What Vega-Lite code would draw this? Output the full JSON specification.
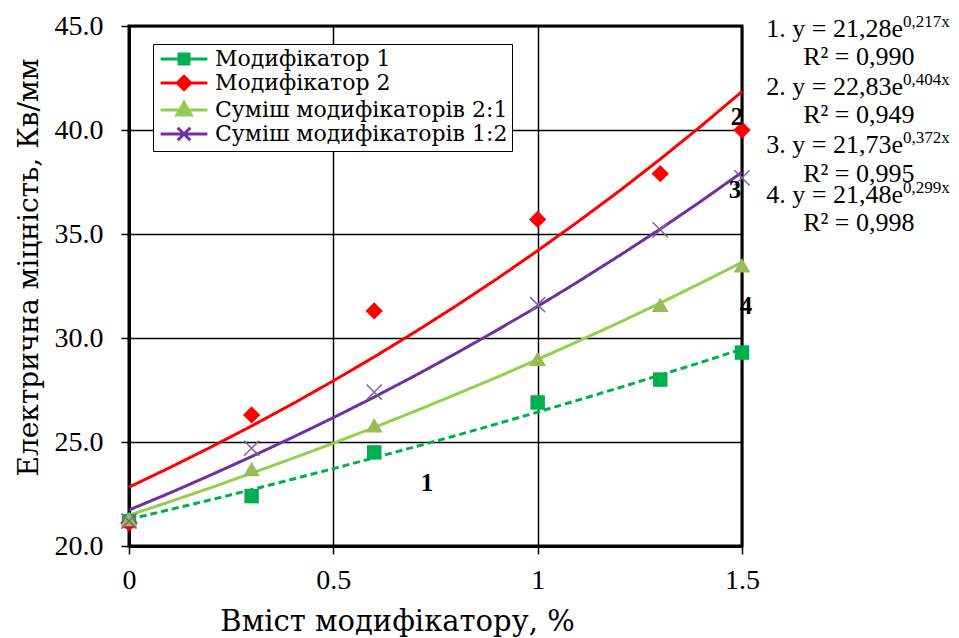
{
  "$schema": "https://vega.github.io/schema/vega-lite/v6.json",
  "width": 613,
  "height": 520,
  "autosize": {"type": "none"},
  "padding": {"left": 129, "top": 26, "right": 217, "bottom": 92},
  "background": "white",
  "config": {
    "font": "Liberation Serif",
    "view": {"stroke": "black", "strokeWidth": 3},
    "text": {"font": "Liberation Serif", "color": "black"}
  },
  "datasets": {
    "points": [
      {"series": "Модифікатор 1", "x": 0, "y": 21.2},
      {"series": "Модифікатор 1", "x": 0.3, "y": 22.4},
      {"series": "Модифікатор 1", "x": 0.6, "y": 24.5},
      {"series": "Модифікатор 1", "x": 1.0, "y": 26.9},
      {"series": "Модифікатор 1", "x": 1.3, "y": 28.0},
      {"series": "Модифікатор 1", "x": 1.5, "y": 29.3},
      {"series": "Модифікатор 2", "x": 0, "y": 21.1},
      {"series": "Модифікатор 2", "x": 0.3, "y": 26.3},
      {"series": "Модифікатор 2", "x": 0.6, "y": 31.3},
      {"series": "Модифікатор 2", "x": 1.0, "y": 35.7},
      {"series": "Модифікатор 2", "x": 1.3, "y": 37.9},
      {"series": "Модифікатор 2", "x": 1.5, "y": 40.0},
      {"series": "Суміш модифікаторів 2:1", "x": 0, "y": 21.3},
      {"series": "Суміш модифікаторів 2:1", "x": 0.3, "y": 23.7},
      {"series": "Суміш модифікаторів 2:1", "x": 0.6, "y": 25.8},
      {"series": "Суміш модифікаторів 2:1", "x": 1.0, "y": 29.0},
      {"series": "Суміш модифікаторів 2:1", "x": 1.3, "y": 31.6},
      {"series": "Суміш модифікаторів 2:1", "x": 1.5, "y": 33.5},
      {"series": "Суміш модифікаторів 1:2", "x": 0, "y": 21.2},
      {"series": "Суміш модифікаторів 1:2", "x": 0.3, "y": 24.7},
      {"series": "Суміш модифікаторів 1:2", "x": 0.6, "y": 27.4},
      {"series": "Суміш модифікаторів 1:2", "x": 1.0, "y": 31.6},
      {"series": "Суміш модифікаторів 1:2", "x": 1.3, "y": 35.2},
      {"series": "Суміш модифікаторів 1:2", "x": 1.5, "y": 37.7}
    ],
    "trend": [
      {"series": "Модифікатор 1", "x": 0, "y": 21.28},
      {"series": "Модифікатор 1", "x": 0.1, "y": 21.75},
      {"series": "Модифікатор 1", "x": 0.2, "y": 22.22},
      {"series": "Модифікатор 1", "x": 0.3, "y": 22.71},
      {"series": "Модифікатор 1", "x": 0.4, "y": 23.21},
      {"series": "Модифікатор 1", "x": 0.5, "y": 23.72},
      {"series": "Модифікатор 1", "x": 0.6, "y": 24.24},
      {"series": "Модифікатор 1", "x": 0.7, "y": 24.77},
      {"series": "Модифікатор 1", "x": 0.8, "y": 25.31},
      {"series": "Модифікатор 1", "x": 0.9, "y": 25.87},
      {"series": "Модифікатор 1", "x": 1.0, "y": 26.44},
      {"series": "Модифікатор 1", "x": 1.1, "y": 27.02},
      {"series": "Модифікатор 1", "x": 1.2, "y": 27.61},
      {"series": "Модифікатор 1", "x": 1.3, "y": 28.22},
      {"series": "Модифікатор 1", "x": 1.4, "y": 28.83},
      {"series": "Модифікатор 1", "x": 1.5, "y": 29.47},
      {"series": "Модифікатор 2", "x": 0, "y": 22.83},
      {"series": "Модифікатор 2", "x": 0.1, "y": 23.77},
      {"series": "Модифікатор 2", "x": 0.2, "y": 24.75},
      {"series": "Модифікатор 2", "x": 0.3, "y": 25.77},
      {"series": "Модифікатор 2", "x": 0.4, "y": 26.83},
      {"series": "Модифікатор 2", "x": 0.5, "y": 27.94},
      {"series": "Модифікатор 2", "x": 0.6, "y": 29.09},
      {"series": "Модифікатор 2", "x": 0.7, "y": 30.29},
      {"series": "Модифікатор 2", "x": 0.8, "y": 31.54},
      {"series": "Модифікатор 2", "x": 0.9, "y": 32.84},
      {"series": "Модифікатор 2", "x": 1.0, "y": 34.20},
      {"series": "Модифікатор 2", "x": 1.1, "y": 35.61},
      {"series": "Модифікатор 2", "x": 1.2, "y": 37.07},
      {"series": "Модифікатор 2", "x": 1.3, "y": 38.60},
      {"series": "Модифікатор 2", "x": 1.4, "y": 40.19},
      {"series": "Модифікатор 2", "x": 1.5, "y": 41.85},
      {"series": "Суміш модифікаторів 2:1", "x": 0, "y": 21.48},
      {"series": "Суміш модифікаторів 2:1", "x": 0.1, "y": 22.13},
      {"series": "Суміш модифікаторів 2:1", "x": 0.2, "y": 22.80},
      {"series": "Суміш модифікаторів 2:1", "x": 0.3, "y": 23.50},
      {"series": "Суміш модифікаторів 2:1", "x": 0.4, "y": 24.21},
      {"series": "Суміш модифікаторів 2:1", "x": 0.5, "y": 24.94},
      {"series": "Суміш модифікаторів 2:1", "x": 0.6, "y": 25.70},
      {"series": "Суміш модифікаторів 2:1", "x": 0.7, "y": 26.48},
      {"series": "Суміш модифікаторів 2:1", "x": 0.8, "y": 27.29},
      {"series": "Суміш модифікаторів 2:1", "x": 0.9, "y": 28.11},
      {"series": "Суміш модифікаторів 2:1", "x": 1.0, "y": 28.97},
      {"series": "Суміш модифікаторів 2:1", "x": 1.1, "y": 29.85},
      {"series": "Суміш модифікаторів 2:1", "x": 1.2, "y": 30.75},
      {"series": "Суміш модифікаторів 2:1", "x": 1.3, "y": 31.68},
      {"series": "Суміш модифікаторів 2:1", "x": 1.4, "y": 32.65},
      {"series": "Суміш модифікаторів 2:1", "x": 1.5, "y": 33.64},
      {"series": "Суміш модифікаторів 1:2", "x": 0, "y": 21.73},
      {"series": "Суміш модифікаторів 1:2", "x": 0.1, "y": 22.55},
      {"series": "Суміш модифікаторів 1:2", "x": 0.2, "y": 23.41},
      {"series": "Суміш модифікаторів 1:2", "x": 0.3, "y": 24.30},
      {"series": "Суміш модифікаторів 1:2", "x": 0.4, "y": 25.22},
      {"series": "Суміш модифікаторів 1:2", "x": 0.5, "y": 26.17},
      {"series": "Суміш модифікаторів 1:2", "x": 0.6, "y": 27.16},
      {"series": "Суміш модифікаторів 1:2", "x": 0.7, "y": 28.19},
      {"series": "Суміш модифікаторів 1:2", "x": 0.8, "y": 29.26},
      {"series": "Суміш модифікаторів 1:2", "x": 0.9, "y": 30.37},
      {"series": "Суміш модифікаторів 1:2", "x": 1.0, "y": 31.52},
      {"series": "Суміш модифікаторів 1:2", "x": 1.1, "y": 32.72},
      {"series": "Суміш модифікаторів 1:2", "x": 1.2, "y": 33.96},
      {"series": "Суміш модифікаторів 1:2", "x": 1.3, "y": 35.24},
      {"series": "Суміш модифікаторів 1:2", "x": 1.4, "y": 36.58},
      {"series": "Суміш модифікаторів 1:2", "x": 1.5, "y": 37.97}
    ],
    "eqMain": [
      {"t": "1. y = 21,28e", "x": 1.894, "y": 44.86},
      {"t": "2. y = 22,83e", "x": 1.894, "y": 42.07},
      {"t": "3. y = 21,73e", "x": 1.894, "y": 39.28},
      {"t": "4. y = 21,48e", "x": 1.894, "y": 36.88}
    ],
    "eqSup": [
      {"t": "0,217x", "x": 1.894, "y": 45.19},
      {"t": "0,404x", "x": 1.894, "y": 42.40},
      {"t": "0,372x", "x": 1.894, "y": 39.62},
      {"t": "0,299x", "x": 1.894, "y": 37.21}
    ],
    "r2": [
      {"t": "R² = 0,990", "x": 1.786, "y": 43.51},
      {"t": "R² = 0,949", "x": 1.786, "y": 40.72},
      {"t": "R² = 0,995", "x": 1.786, "y": 37.88},
      {"t": "R² = 0,998", "x": 1.786, "y": 35.53}
    ],
    "nums": [
      {"t": "1", "x": 0.729, "y": 23.03},
      {"t": "2", "x": 1.488, "y": 40.63},
      {"t": "3", "x": 1.483, "y": 37.12},
      {"t": "4", "x": 1.51, "y": 31.54}
    ]
  },
  "layer": [
    {
      "data": {"name": "trend"},
      "mark": {"type": "line", "strokeWidth": 3},
      "encoding": {
        "x": {
          "field": "x", "type": "quantitative",
          "scale": {"domain": [0, 1.5], "nice": false, "zero": false},
          "axis": {
            "values": [0, 0.5, 1, 1.5], "format": "~g",
            "title": "Вміст модифікатору, %",
            "labelFont": "Liberation Serif", "labelFontSize": 28, "labelColor": "black",
            "titleFont": "DejaVu Serif", "titleFontSize": 29, "titleFontWeight": "normal", "titleColor": "black",
            "titleX": 268, "titleY": 84, "titleAlign": "center", "titleBaseline": "alphabetic",
            "labelPadding": 12,
            "grid": true, "gridColor": "black", "gridWidth": 1.5, "gridOpacity": 1,
            "domainColor": "black", "domainWidth": 3,
            "tickColor": "black", "tickWidth": 1.5, "tickSize": 8,
            "labelFlush": false, "labelOverlap": false
          }
        },
        "y": {
          "field": "y", "type": "quantitative",
          "scale": {"domain": [20, 45], "nice": false, "zero": false},
          "axis": {
            "values": [20, 25, 30, 35, 40, 45], "format": ".1f",
            "title": "Електрична міцність, Кв/мм",
            "labelFont": "Liberation Serif", "labelFontSize": 28, "labelColor": "black",
            "titleFont": "DejaVu Serif", "titleFontSize": 28, "titleFontWeight": "normal", "titleColor": "black",
            "titleX": -92, "titleY": 241, "titleAlign": "center", "titleBaseline": "alphabetic", "titleAngle": -90,
            "labelPadding": 18,
            "grid": true, "gridColor": "black", "gridWidth": 1.5, "gridOpacity": 1,
            "domainColor": "black", "domainWidth": 3,
            "tickColor": "black", "tickWidth": 1.5, "tickSize": 8,
            "labelFlush": false, "labelOverlap": false
          }
        },
        "color": {
          "field": "series", "type": "nominal",
          "scale": {
            "domain": ["Модифікатор 1", "Модифікатор 2", "Суміш модифікаторів 2:1", "Суміш модифікаторів 1:2"],
            "range": ["#00B050", "#FF0000", "#92D050", "#7030A0"]
          },
          "legend": null
        },
        "strokeDash": {
          "field": "series", "type": "nominal",
          "scale": {
            "domain": ["Модифікатор 1", "Модифікатор 2", "Суміш модифікаторів 2:1", "Суміш модифікаторів 1:2"],
            "range": [[7, 4], [1, 0], [1, 0], [1, 0]]
          },
          "legend": null
        }
      }
    },
    {
      "data": {"name": "points"},
      "transform": [{"filter": {"field": "series", "equal": "Модифікатор 1"}}],
      "mark": {"type": "point", "shape": "square", "filled": true, "opacity": 1, "size": 210, "color": "#00B050"},
      "encoding": {
        "x": {"field": "x", "type": "quantitative", "scale": {"domain": [0, 1.5], "nice": false, "zero": false}},
        "y": {"field": "y", "type": "quantitative", "scale": {"domain": [20, 45], "nice": false, "zero": false}}
      }
    },
    {
      "data": {"name": "points"},
      "transform": [{"filter": {"field": "series", "equal": "Модифікатор 2"}}],
      "mark": {"type": "point", "shape": "diamond", "filled": true, "opacity": 1, "size": 300, "color": "#FF0000"},
      "encoding": {
        "x": {"field": "x", "type": "quantitative", "scale": {"domain": [0, 1.5], "nice": false, "zero": false}},
        "y": {"field": "y", "type": "quantitative", "scale": {"domain": [20, 45], "nice": false, "zero": false}}
      }
    },
    {
      "data": {"name": "points"},
      "transform": [{"filter": {"field": "series", "equal": "Суміш модифікаторів 2:1"}}],
      "mark": {"type": "point", "shape": "triangle-up", "filled": true, "opacity": 1, "size": 280, "color": "#9BBB59"},
      "encoding": {
        "x": {"field": "x", "type": "quantitative", "scale": {"domain": [0, 1.5], "nice": false, "zero": false}},
        "y": {"field": "y", "type": "quantitative", "scale": {"domain": [20, 45], "nice": false, "zero": false}}
      }
    },
    {
      "data": {"name": "points"},
      "transform": [{"filter": {"field": "series", "equal": "Суміш модифікаторів 1:2"}}],
      "mark": {"type": "point", "shape": "M-1,-1L1,1M-1,1L1,-1", "filled": false, "opacity": 1, "size": 230, "stroke": "#8064A2", "strokeWidth": 1.5},
      "encoding": {
        "x": {"field": "x", "type": "quantitative", "scale": {"domain": [0, 1.5], "nice": false, "zero": false}},
        "y": {"field": "y", "type": "quantitative", "scale": {"domain": [20, 45], "nice": false, "zero": false}}
      }
    },
    {
      "data": {"name": "points"},
      "mark": {"type": "point", "filled": true, "opacity": 0},
      "encoding": {
        "x": {"field": "x", "type": "quantitative", "scale": {"domain": [0, 1.5], "nice": false, "zero": false}},
        "y": {"field": "y", "type": "quantitative", "scale": {"domain": [20, 45], "nice": false, "zero": false}},
        "fill": {
          "field": "series", "type": "nominal",
          "scale": {
            "domain": ["Модифікатор 1", "Модифікатор 2", "Суміш модифікаторів 2:1", "Суміш модифікаторів 1:2"],
            "range": ["#00B050", "#FF0000", "#9BBB59", "#8064A2"]
          },
          "legend": {
            "orient": "none", "legendX": 24, "legendY": 18, "title": null,
            "labelFont": "DejaVu Serif", "labelFontSize": 22, "labelColor": "black", "labelLimit": 400,
            "symbolSize": 324, "symbolStrokeWidth": 3, "symbolOffset": 16, "labelOffset": 20,
            "padding": 4, "rowPadding": 0, "strokeColor": "black", "fillColor": "white", "symbolOpacity": 1
          }
        },
        "stroke": {
          "field": "series", "type": "nominal",
          "scale": {
            "domain": ["Модифікатор 1", "Модифікатор 2", "Суміш модифікаторів 2:1", "Суміш модифікаторів 1:2"],
            "range": ["#00B050", "#FF0000", "#92D050", "#7030A0"]
          },
          "legend": {
            "orient": "none", "legendX": 24, "legendY": 18, "title": null,
            "labelFont": "DejaVu Serif", "labelFontSize": 22, "labelColor": "black", "labelLimit": 400,
            "symbolSize": 324, "symbolStrokeWidth": 3, "symbolOffset": 16, "labelOffset": 20,
            "padding": 4, "rowPadding": 0, "strokeColor": "black", "fillColor": "white", "symbolOpacity": 1
          }
        },
        "shape": {
          "field": "series", "type": "nominal",
          "scale": {
            "domain": ["Модифікатор 1", "Модифікатор 2", "Суміш модифікаторів 2:1", "Суміш модифікаторів 1:2"],
            "range": [
              "M-2.6,0H2.6M-0.55,-0.55H0.55V0.55H-0.55Z",
              "M-2.6,0H2.6M-0.75,0L0,-0.75L0.75,0L0,0.75Z",
              "M-2.6,0H2.6M0,-0.85L0.8,0.55H-0.8Z",
              "M-2.6,0H2.6M-0.7,-0.7L0.7,0.7M-0.7,0.7L0.7,-0.7"
            ]
          },
          "legend": {
            "orient": "none", "legendX": 24, "legendY": 18, "title": null,
            "labelFont": "DejaVu Serif", "labelFontSize": 22, "labelColor": "black", "labelLimit": 400,
            "symbolSize": 324, "symbolStrokeWidth": 3, "symbolOffset": 16, "labelOffset": 20,
            "padding": 4, "rowPadding": 0, "strokeColor": "black", "fillColor": "white", "symbolOpacity": 1
          }
        }
      }
    },
    {
      "data": {"name": "eqMain"},
      "mark": {"type": "text", "align": "right", "baseline": "middle", "fontSize": 26},
      "encoding": {
        "x": {"field": "x", "type": "quantitative", "scale": {"domain": [0, 1.5], "nice": false, "zero": false}},
        "y": {"field": "y", "type": "quantitative", "scale": {"domain": [20, 45], "nice": false, "zero": false}},
        "text": {"field": "t"}
      }
    },
    {
      "data": {"name": "eqSup"},
      "mark": {"type": "text", "align": "left", "baseline": "middle", "fontSize": 17},
      "encoding": {
        "x": {"field": "x", "type": "quantitative", "scale": {"domain": [0, 1.5], "nice": false, "zero": false}},
        "y": {"field": "y", "type": "quantitative", "scale": {"domain": [20, 45], "nice": false, "zero": false}},
        "text": {"field": "t"}
      }
    },
    {
      "data": {"name": "r2"},
      "mark": {"type": "text", "align": "center", "baseline": "middle", "fontSize": 26},
      "encoding": {
        "x": {"field": "x", "type": "quantitative", "scale": {"domain": [0, 1.5], "nice": false, "zero": false}},
        "y": {"field": "y", "type": "quantitative", "scale": {"domain": [20, 45], "nice": false, "zero": false}},
        "text": {"field": "t"}
      }
    },
    {
      "data": {"name": "nums"},
      "mark": {"type": "text", "align": "center", "baseline": "middle", "fontSize": 25, "fontWeight": "bold"},
      "encoding": {
        "x": {"field": "x", "type": "quantitative", "scale": {"domain": [0, 1.5], "nice": false, "zero": false}},
        "y": {"field": "y", "type": "quantitative", "scale": {"domain": [20, 45], "nice": false, "zero": false}},
        "text": {"field": "t"}
      }
    }
  ],
  "resolve": {
    "scale": {"shape": "independent", "fill": "independent", "stroke": "independent"},
    "legend": {"shape": "independent", "fill": "independent", "stroke": "independent"}
  }
}
